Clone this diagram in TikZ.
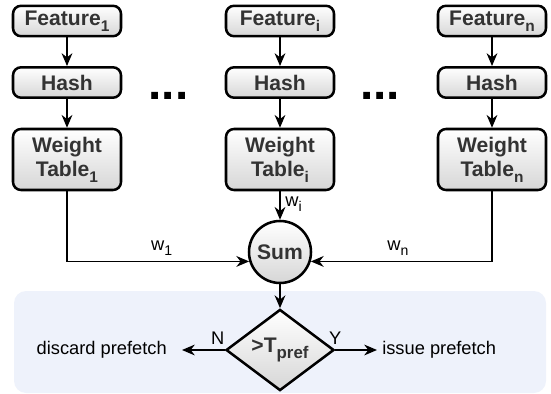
\documentclass[tikz,border=0pt]{standalone}
\usepackage{fontspec}
\setmainfont{Liberation Sans}
\usetikzlibrary{arrows.meta,shapes.geometric}
\definecolor{boxtext}{HTML}{333333}
\definecolor{panel}{HTML}{EEF2FB}
\newcommand{\idx}[2][11]{\raisebox{-0.55ex}{\fontsize{#1}{#1}\selectfont #2}}

\begin{document}
\begin{tikzpicture}[
    blk/.style={draw, line width=1.8pt, rounded corners=0.2cm,
      top color=white, bottom color=black!16, text=boxtext,
      font=\fontsize{15}{17}\selectfont\bfseries,
      minimum width=2.7cm, inner sep=0pt, align=center},
    arr/.style={-{Stealth[length=0.32cm,width=0.27cm]}, line width=1.1pt},
    lbl/.style={font=\fontsize{13}{15}\selectfont},
    txt/.style={font=\fontsize{13}{15}\selectfont, inner sep=0pt}]
  \useasboundingbox (0,0) rectangle (13.775,-9.85);
  \fill[panel, rounded corners=0.3cm] (0.35,-7.275) rectangle (13.65,-9.825);

  \node[blk, minimum height=0.76cm] (f1) at (1.675,-0.525) {Feature\idx{1}};
  \node[blk, minimum height=0.76cm] (h1) at (1.675,-2.0625) {Hash};
  \node[blk, minimum height=1.525cm] (t1) at (1.675,-3.9875) {Weight\\Table\idx{1}};

  \node[blk, minimum height=0.76cm] (fi) at (7.0,-0.525) {Feature\idx{i}};
  \node[blk, minimum height=0.76cm] (hi) at (7.0,-2.0625) {Hash};
  \node[blk, minimum height=1.525cm] (ti) at (7.0,-3.9875) {Weight\\Table\idx{i}};

  \node[blk, minimum height=0.76cm] (fn) at (12.3,-0.525) {Feature\idx{n}};
  \node[blk, minimum height=0.76cm] (hn) at (12.3,-2.0625) {Hash};
  \node[blk, minimum height=1.525cm] (tn) at (12.3,-3.9875) {Weight\\Table\idx{n}};

  \node[anchor=base, font=\fontsize{34}{36}\selectfont\bfseries] (gap1) at (4.21,-2.5) {...};
  \node[anchor=base, font=\fontsize{34}{36}\selectfont\bfseries] (gap2) at (9.5,-2.5) {...};

  \node[blk, circle, minimum size=1.55cm] (sum) at (7.0,-6.3) {Sum};
  \node[blk, diamond, rounded corners=0pt, minimum width=2.7cm, minimum height=1.9cm]
    (dec) at (7.0,-8.75) {>T\idx[12]{pref}};

  \node[txt, anchor=east] (discard) at (4.175,-8.75) {discard prefetch};
  \node[txt, anchor=west] (issue) at (9.55,-8.75) {issue prefetch};

  \draw[arr] (f1) -- (h1);
  \draw[arr] (h1) -- (t1);
  \draw[arr] (fi) -- (hi);
  \draw[arr] (hi) -- (ti);
  \draw[arr] (fn) -- (hn);
  \draw[arr] (hn) -- (tn);

  \draw[arr] (t1) |- (sum.197) node[lbl, pos=0.76, above] {w\idx[10]{1}};
  \draw[arr] (tn) |- (sum.-17) node[lbl, pos=0.76, above] {w\idx[10]{n}};
  \draw[arr] (ti) -- (sum) node[lbl, pos=0.45, right] {w\idx[10]{i}};
  \draw[arr] (sum) -- (dec);
  \draw[arr, shorten >=0.375cm] (dec.west) -- (discard.east) node[lbl, pos=0.12, above] {N};
  \draw[arr, shorten >=0.125cm] (dec.east) -- (issue.west) node[lbl, pos=0, above] {Y};
\end{tikzpicture}
\end{document}
